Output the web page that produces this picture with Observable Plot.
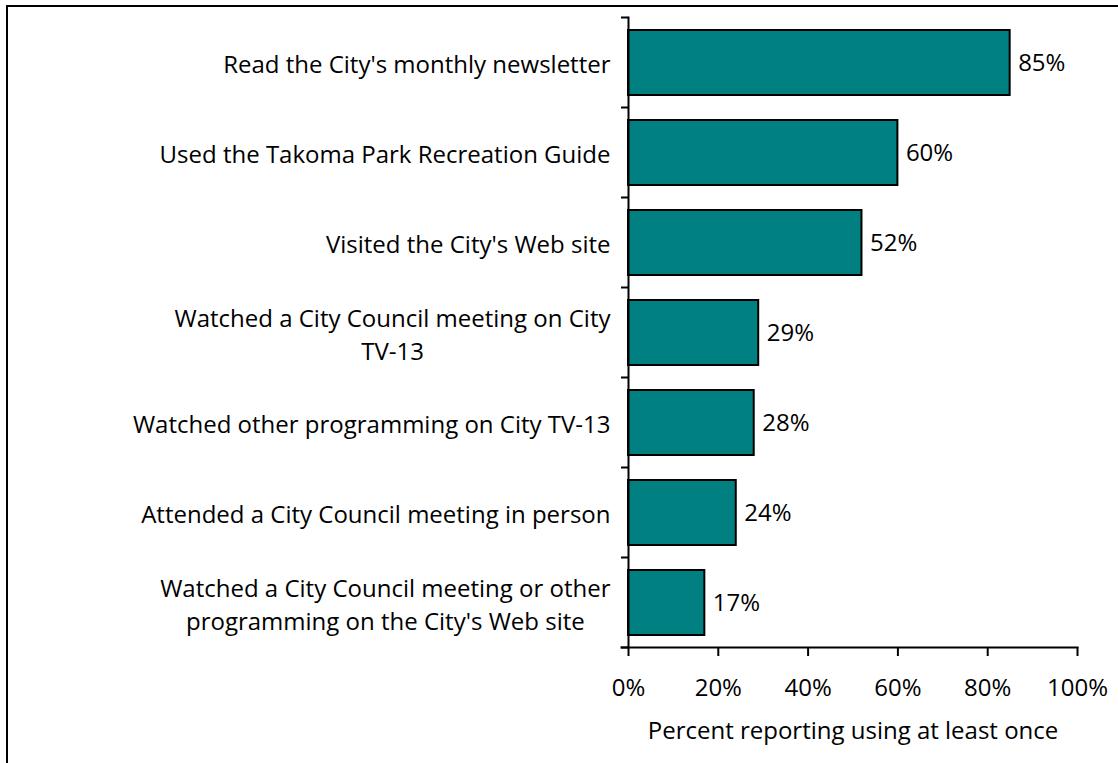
<!DOCTYPE html>
<html>
<head>
<meta charset="utf-8">
<script src="https://cdn.jsdelivr.net/npm/d3@7"></script>
<script src="https://cdn.jsdelivr.net/npm/@observablehq/plot@0.6"></script>
<style>
  html, body { margin: 0; padding: 0; background: #fff; overflow: hidden; }
  #frame { position: absolute; left: 6px; top: 5px; width: 2000px; height: 2000px;
           border-left: 2px solid #000; border-top: 2px solid #000; pointer-events: none; }
  #chart { position: absolute; left: 0; top: 0; }
  svg { font-family: "Open Sans", sans-serif; }
</style>
</head>
<body>
<div id="chart"></div>
<div id="frame"></div>
<script>
// Data
const categories = [
  "Read the City's monthly newsletter",
  "Used the Takoma Park Recreation Guide",
  "Visited the City's Web site",
  "Watched a City Council meeting on City\nTV-13",
  "Watched other programming on City TV-13",
  "Attended a City Council meeting in person",
  "Watched a City Council meeting or other\nprogramming on the City's Web site"
];
const values = [85, 60, 52, 29, 28, 24, 17];
const xTicks = [0, 20, 40, 60, 80, 100];
const xLabel = "Percent reporting using at least once";

const data = categories.map((c, i) => ({category: c, value: values[i]}));
const FS = 24;
const PAD_INNER = 25 / 90;

// ticks at band boundaries, computed from the y band scale
function bandEdgeTicks(index, scales, values, dimensions) {
  const y = scales.y;
  const ys = categories.map(c => y(c));
  const step = ys.length > 1 ? ys[1] - ys[0] : 0;
  const bw = typeof y.bandwidth === "function" ? y.bandwidth() : step * (1 - PAD_INNER);
  const half = (step - bw) / 2;
  const edges = ys.map(v => v - half).concat([ys[ys.length - 1] + bw + half]);
  const x0 = dimensions.marginLeft;
  const g = d3.create("svg:g");
  g.selectAll("line").data(edges).join("line")
    .attr("x1", x0 - 7).attr("x2", x0)
    .attr("y1", d => d).attr("y2", d => d)
    .attr("stroke", "#000").attr("stroke-width", 2);
  return g.node();
}

const chart = Plot.plot({
  width: 1118,
  height: 763,
  marginLeft: 628,
  marginRight: 41,
  marginTop: 17,
  marginBottom: 116,
  style: {fontSize: FS + "px", fontFamily: "'Open Sans', sans-serif", color: "#000"},
  x: {domain: [0, 100]},
  y: {domain: categories, paddingInner: PAD_INNER, paddingOuter: PAD_INNER / 2},
  marks: [
    Plot.barX(data, {x: "value", y: "category", fill: "#008080", stroke: "#000", strokeWidth: 2}),
    Plot.text(data, {x: "value", y: "category", text: d => d.value + "%", textAnchor: "start", dx: 8, fontSize: FS, fill: "#000"}),
    Plot.axisX({ticks: xTicks, tickFormat: d => d + "%", tickSize: 9, tickPadding: 22, strokeWidth: 2,
                label: xLabel, labelAnchor: "center", labelArrow: "none", labelOffset: 91, fontSize: FS}),
    Plot.axisY({tickSize: 0, tickPadding: 18, label: null, fontSize: FS, lineHeight: 1.35}),
    Plot.frame({anchor: "left", strokeWidth: 2}),
    Plot.frame({anchor: "bottom", strokeWidth: 2, insetLeft: -7}),
    bandEdgeTicks
  ]
});
document.getElementById("chart").appendChild(chart);

// center multi-line y labels within their right-aligned block
const yLabels = chart.querySelectorAll('g[aria-label="y-axis tick label"] text');
yLabels.forEach(t => {
  const spans = t.querySelectorAll("tspan");
  if (spans.length > 1) {
    const w = Math.max(...Array.from(spans).map(s => s.getComputedTextLength()));
    t.setAttribute("text-anchor", "middle");
    spans.forEach(s => s.setAttribute("x", -w / 2));
  }
});
</script>
</body>
</html>
